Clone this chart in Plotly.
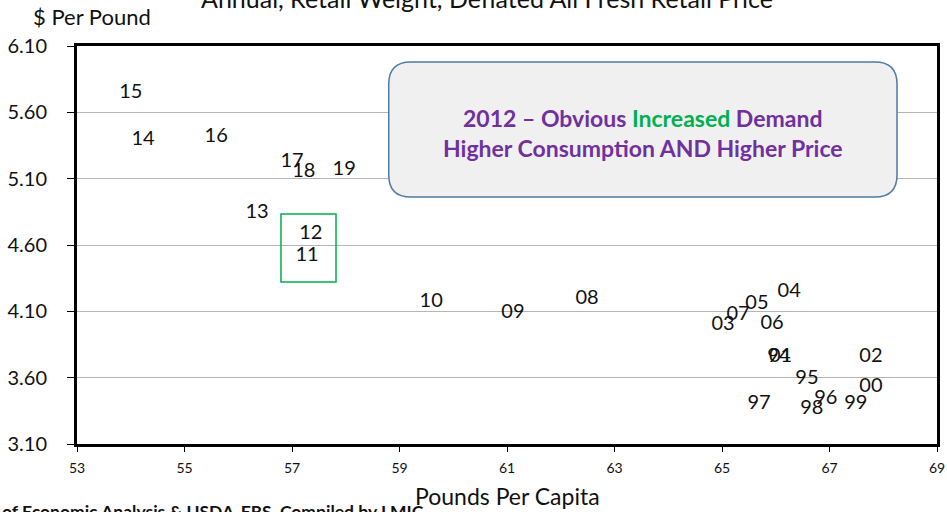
import plotly.graph_objects as go

# Year labels and their (pounds per capita, $ per pound) positions
years = ["94", "95", "96", "97", "98", "99", "00", "01", "02", "03", "04", "05", "06",
         "07", "08", "09", "10", "11", "12", "13", "14", "15", "16", "17", "18", "19"]
consumption = [66.06, 66.58, 66.93, 65.69, 66.67, 67.49, 67.77, 66.09, 67.77, 65.02, 66.25,
               65.65, 65.93, 65.30, 62.49, 61.11, 59.59, 57.28, 57.35, 56.35, 54.23, 54.00,
               55.59, 57.00, 57.22, 57.97]
price = [3.756, 3.59, 3.44, 3.40, 3.364, 3.40, 3.53, 3.756, 3.756, 3.997, 4.246,
         4.155, 4.005, 4.07, 4.193, 4.087, 4.17, 4.517, 4.683, 4.841, 5.39, 5.746,
         5.414, 5.226, 5.15, 5.165]

y_ticks = [3.10, 3.60, 4.10, 4.60, 5.10, 5.60, 6.10]
x_ticks = [53, 55, 57, 59, 61, 63, 65, 67, 69]

FONT = "Lato"
PURPLE = "#7030a0"
GREEN = "#00b050"
W, H = 947, 512
ML, MR, MT, MB = 77, 10, 46, 68

fig = go.Figure()
fig.add_trace(go.Scatter(
    x=consumption, y=price, text=years, mode="text",
    textposition="middle center",
    textfont=dict(family=FONT, size=20, color="#111111"),
    hoverinfo="x+y+text", showlegend=False,
))

# Rounded callout box (data coords)
x0, x1, y0, y1 = 58.80, 68.256, 4.962, 5.979
rx, ry = 0.41, 0.166
path = (f"M {x0+rx},{y1} L {x1-rx},{y1} Q {x1},{y1} {x1},{y1-ry} "
        f"L {x1},{y0+ry} Q {x1},{y0} {x1-rx},{y0} "
        f"L {x0+rx},{y0} Q {x0},{y0} {x0},{y0+ry} "
        f"L {x0},{y1-ry} Q {x0},{y1} {x0+rx},{y1} Z")
fig.add_shape(type="path", path=path, xref="x", yref="y",
              fillcolor="#f0f0f0", line=dict(color="#4f7aa6", width=1.5), layer="above")

# Green highlight box around 2011/2012
fig.add_shape(type="rect", xref="x", yref="y", x0=56.795, x1=57.819, y0=4.321, y1=4.834,
              line=dict(color=GREEN, width=1.5), fillcolor="rgba(0,0,0,0)")

cx = (x0 + x1) / 2
fig.add_annotation(x=cx, y=5.56, xref="x", yref="y", showarrow=False,
                   text=f"<b><span style='color:{PURPLE}'>2012 – Obvious </span>"
                        f"<span style='color:{GREEN}'>Increased</span>"
                        f"<span style='color:{PURPLE}'> Demand</span></b>",
                   font=dict(family=FONT, size=23, color=PURPLE))
fig.add_annotation(x=cx, y=5.33, xref="x", yref="y", showarrow=False,
                   text="<b>Higher Consumption AND Higher Price</b>",
                   font=dict(family=FONT, size=23, color=PURPLE))

pw, ph = W - ML - MR, H - MT - MB
def px(xp):
    return (xp - ML) / pw
def py(yp):
    return (H - MB - yp) / ph

fig.add_annotation(x=px(487), y=py(-2), xref="paper", yref="paper", showarrow=False,
                   xanchor="center", yanchor="middle",
                   text="Annual, Retail Weight, Deflated All Fresh Retail Price",
                   font=dict(family=FONT, size=25, color="#111111"))
fig.add_annotation(x=px(31), y=py(17), xref="paper", yref="paper", showarrow=False,
                   xanchor="left", yanchor="middle", text="$ Per Pound",
                   font=dict(family=FONT, size=22, color="#111111"))
fig.add_annotation(x=px(507), y=py(496), xref="paper", yref="paper", showarrow=False,
                   xanchor="center", yanchor="middle", text="Pounds Per Capita",
                   font=dict(family=FONT, size=23, color="#111111"))
fig.add_annotation(x=px(0), y=py(511), xref="paper", yref="paper", showarrow=False,
                   xanchor="left", yanchor="middle",
                   text="<b>of Economic Analysis &amp; USDA-ERS, Compiled by LMIC</b>",
                   font=dict(family=FONT, size=17.5, color="#111111"))

fig.update_layout(
    width=W, height=H,
    margin=dict(l=ML, r=MR, t=MT, b=MB, autoexpand=False),
    paper_bgcolor="white", plot_bgcolor="white",
    font=dict(family=FONT, color="#111111"),
    xaxis=dict(range=[53, 69], tickvals=x_ticks, ticktext=[str(v) for v in x_ticks],
               showgrid=False, zeroline=False, showline=True, linecolor="black",
               linewidth=3, mirror=True, ticks="outside", ticklen=5, tickcolor="black",
               tickfont=dict(family=FONT, size=14), ticklabelstandoff=4, automargin=False),
    yaxis=dict(range=[3.10, 6.10], tickvals=y_ticks, ticktext=[f"{v:.2f}" for v in y_ticks],
               showgrid=True, gridcolor="#b4b4b4", gridwidth=1.3, zeroline=False,
               showline=True, linecolor="black", linewidth=3, mirror=True,
               ticks="outside", ticklen=7, tickcolor="black",
               tickfont=dict(family=FONT, size=20), ticklabelstandoff=16, automargin=False),
)

fig.write_html("out.html")
